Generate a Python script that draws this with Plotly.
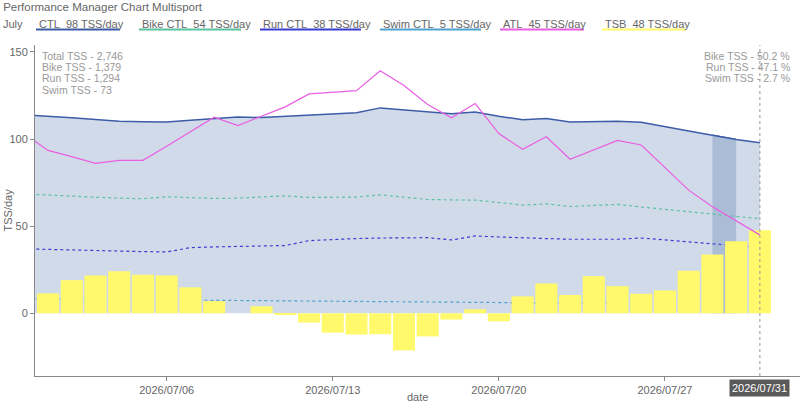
import pandas as pd
import plotly.graph_objects as go

# daily values, 2026-06-30 .. 2026-07-31 (first day sits just left of the visible range)
dates = pd.date_range("2026-06-30", "2026-07-31", freq="D")

ctl = [113.8, 113.1, 112.3, 111.2, 110.3, 110.0, 109.8, 110.8, 111.8, 112.6, 112.4,
       113.1, 113.7, 114.3, 115.1, 117.9, 116.8, 115.6, 114.6, 115.6, 113.1, 111.1,
       111.8, 109.8, 110.1, 110.3, 109.7, 107.4, 104.7, 102.2, 99.8, 97.9]
bike_ctl = [68.5, 68.1, 67.3, 66.6, 66.1, 65.7, 66.9, 66.2, 65.9, 66.1, 66.7,
            67.4, 66.5, 66.6, 66.7, 68.0, 66.6, 65.3, 65.1, 64.9, 63.6, 62.1,
            62.8, 61.3, 61.9, 62.5, 61.0, 59.7, 58.4, 57.0, 55.6, 54.3]
run_ctl = [37.0, 36.6, 36.3, 36.0, 35.7, 35.4, 35.2, 37.7, 38.1, 38.4, 38.6,
           38.9, 41.7, 42.5, 42.9, 43.2, 43.2, 43.4, 42.1, 44.4, 43.8, 43.2,
           42.9, 42.5, 42.5, 42.5, 43.2, 42.0, 40.8, 39.6, 38.8, 38.2]
swim_ctl = [8.3, 8.2, 8.2, 8.1, 8.1, 8.0, 8.0, 7.6, 7.4, 7.3, 7.2,
            7.1, 7.0, 7.0, 6.9, 6.9, 6.8, 6.8, 6.7, 6.6, 6.3, 6.3,
            6.2, 6.0, 5.9, 5.8, 5.7, 5.5, 5.4, 5.2, 5.1, 5.0]
atl = [103.0, 93.5, 89.9, 86.1, 87.8, 87.8, 95.9, 104.1, 112.6, 107.8, 113.1,
       118.5, 125.9, 126.9, 127.8, 139.2, 130.7, 119.8, 112.2, 120.4, 103.2, 94.1,
       101.3, 88.4, 93.6, 99.2, 96.6, 83.5, 70.7, 61.1, 52.8, 45.0]
# TSB bars for 2026-07-01 .. 2026-07-31
tsb = [11.4, 19.0, 21.7, 24.2, 22.1, 21.7, 14.9, 7.0, 0.0, 4.0, -1.0,
       -5.3, -11.1, -12.2, -12.0, -21.3, -13.3, -3.6, 2.3, -4.6, 9.7, 17.1,
       10.5, 21.3, 15.6, 11.2, 13.1, 24.4, 33.7, 41.3, 47.6]

highlight = ("2026-07-29", "2026-07-30")
hover_day = "2026-07-31"

total_tss = 2746
sport_tss = {"Bike": 1379, "Run": 1294, "Swim": 73}

C_CTL, C_FILL, C_BAND = "#3d5ca8", "#d1dae8", "#abbcd6"
C_BIKE, C_RUN, C_SWIM = "#5cc1a0", "#3b3cd2", "#4ea2cf"
C_ATL, C_TSB = "#ea5ee3", "#fff96b"
FONT = "Liberation Sans, Arial, sans-serif"

# plot area in pixels: x 35..800, y 45..376
def px(p):
    return (p - 35) / 765

def py(p):
    return (376 - p) / 331

df = pd.DataFrame({"date": dates, "ctl": ctl, "bike": bike_ctl, "run": run_ctl,
                   "swim": swim_ctl, "atl": atl})
band = df[(df.date >= highlight[0]) & (df.date <= highlight[1])]

fig = go.Figure()
fig.add_trace(go.Scatter(x=df.date, y=df.ctl, mode="lines", fill="tozeroy",
                         fillcolor=C_FILL, line=dict(color=C_CTL, width=1.5)))
fig.add_trace(go.Scatter(x=band.date, y=band.ctl, mode="lines", fill="tozeroy",
                         fillcolor=C_BAND, line=dict(color=C_CTL, width=1.5)))
for col, c in [("bike", C_BIKE), ("run", C_RUN), ("swim", C_SWIM)]:
    fig.add_trace(go.Scatter(x=df.date, y=df[col], mode="lines",
                             line=dict(color=c, width=1.2, dash="dot")))

# bars (and ATL) on an overlaid axis pair so they sit above the fill
fig.add_trace(go.Bar(x=dates[1:], y=tsb, marker=dict(color=C_TSB, line=dict(width=0)),
                     xaxis="x2", yaxis="y2"))
fig.add_trace(go.Scatter(x=df.date, y=df.atl, mode="lines",
                         line=dict(color=C_ATL, width=1.2), xaxis="x2", yaxis="y2"))

xr = ["2026-06-30 10:48", "2026-08-01 16:35"]
yr = [-36, 154]

ann = []
# legend row
ann.append(dict(text="July", x=px(1), y=py(24), xanchor="left"))
legend_items = [("CTL", ctl[-1], C_CTL, 36, 120), ("Bike CTL", bike_ctl[-1], C_BIKE, 139, 241),
                ("Run CTL", run_ctl[-1], C_RUN, 260, 361), ("Swim CTL", swim_ctl[-1], C_SWIM, 380, 481),
                ("ATL", atl[-1], C_ATL, 500, 584), ("TSB", tsb[-1], C_TSB, 602, 686)]
shapes = []
for name, val, c, x0, x1 in legend_items:
    ann.append(dict(text=f"{name}\u00a0\u00a0{round(val)} TSS/day", x=px(x0 + 1), y=py(24),
                    xanchor="left"))
    shapes.append(dict(type="line", xref="paper", yref="paper", x0=px(x0), x1=px(x1),
                       y0=py(29.5), y1=py(29.5), line=dict(color=c, width=2)))

left_lines = [f"Total TSS - {total_tss:,}"] + [f"{k} TSS - {v:,}" for k, v in sport_tss.items()]
for i, t in enumerate(left_lines):
    ann.append(dict(text=t, x=px(40), y=py(55.7 + i * 11.3), xanchor="left",
                    font=dict(color="#999", size=10.5)))
for i, (k, v) in enumerate(sport_tss.items()):
    ann.append(dict(text=f"{k} TSS - {v / total_tss * 100:.1f} %", x=px(792),
                    y=py(55.7 + i * 11.3), xanchor="right", font=dict(color="#999", size=10.5)))

ann.append(dict(text="TSS/day", x=px(7.5), y=py(210), xanchor="center", textangle=-90))
ann.append(dict(text="date", x=0.5, y=py(397), xanchor="center"))
ann.append(dict(text=pd.Timestamp(hover_day).strftime("%Y/%m/%d"), xref="x", x=hover_day,
                y=py(388), xanchor="center", bgcolor="#5a5a5a", borderpad=2,
                font=dict(color="white", size=11)))
for a in ann:
    a.setdefault("xref", "paper")
    a.setdefault("yref", "paper")
    a.setdefault("showarrow", False)
    a.setdefault("yanchor", "middle")
    a.setdefault("font", dict(color="#666", size=11))

shapes.append(dict(type="line", xref="x", yref="paper", x0=hover_day, x1=hover_day,
                   y0=0, y1=1, layer="above", line=dict(color="#999", width=1, dash="dot")))

axis_common = dict(showline=True, linecolor="#888", linewidth=1, ticks="outside",
                   ticklen=4, tickcolor="#888", showgrid=False, zeroline=False,
                   tickfont=dict(color="#666", size=11))

fig.update_layout(
    width=800, height=402,
    margin=dict(l=35, r=0, t=45, b=26),
    paper_bgcolor="white", plot_bgcolor="white",
    font=dict(family=FONT, color="#666"),
    showlegend=False, bargap=0.07,
    title=dict(text="Performance Manager Chart Multisport", x=0.004, xanchor="left",
               y=1 - 6.5 / 402, yanchor="middle", xref="container", yref="container",
               font=dict(size=11.5, color="#666")),
    xaxis=dict(range=xr, tickformat="%Y/%m/%d", tick0="2026-07-06", dtick=7 * 86400000,
               **axis_common),
    yaxis=dict(range=yr, tickvals=[0, 50, 100, 150], **axis_common),
    xaxis2=dict(range=xr, overlaying="x", anchor="y2", visible=False),
    yaxis2=dict(range=yr, overlaying="y", anchor="x2", visible=False),
    annotations=ann, shapes=shapes,
)

# drop the page's default body margin so the 800x402 figure fills the window
fig.write_html("out.html", config={"displayModeBar": False},
               post_script="document.body.style.margin='0';document.body.style.overflow='hidden';")
